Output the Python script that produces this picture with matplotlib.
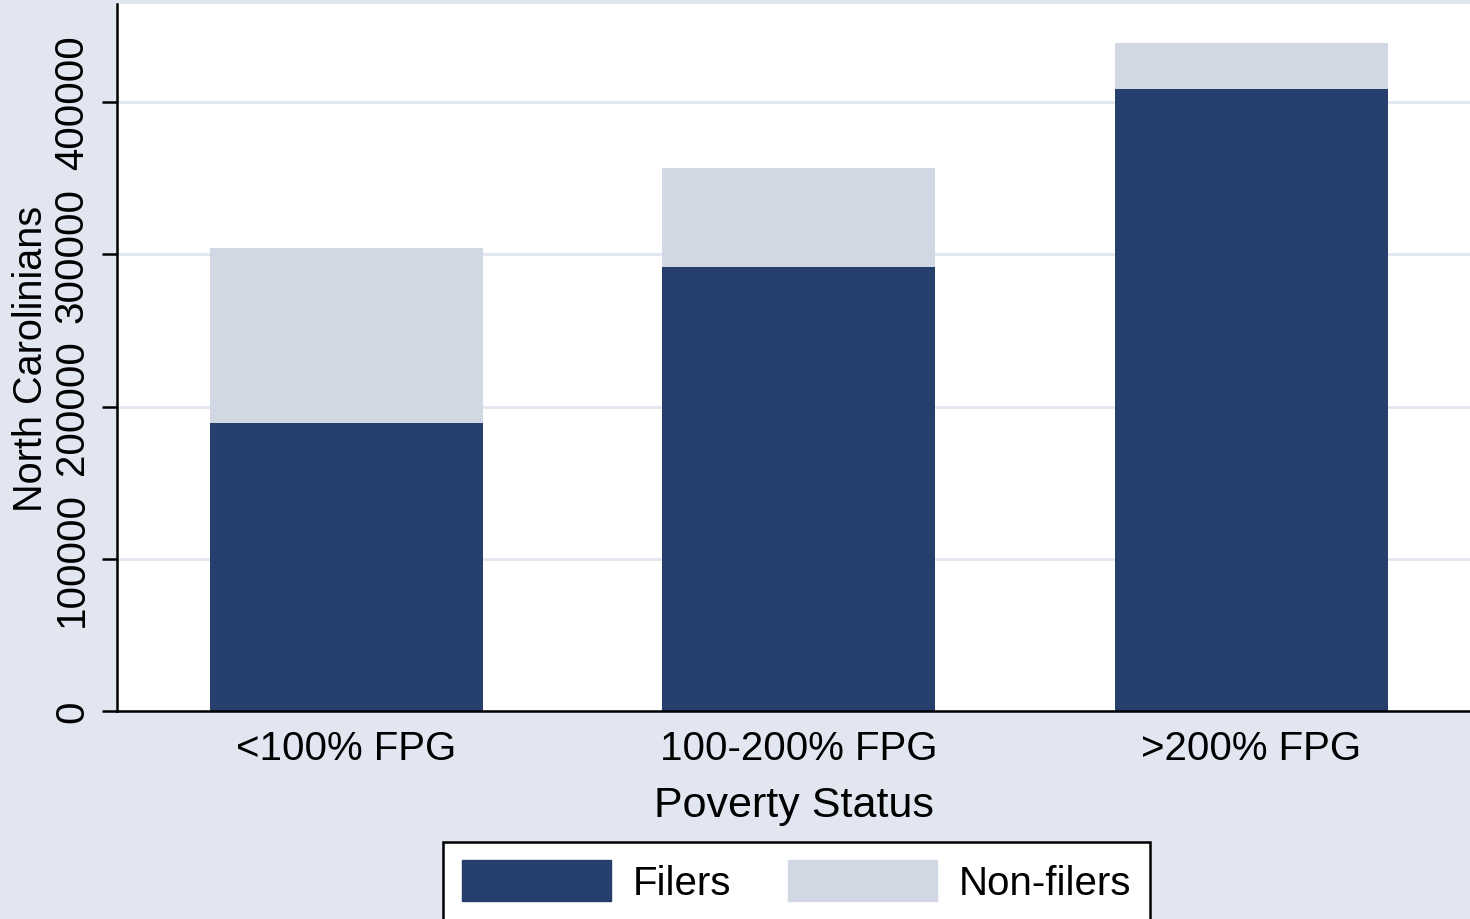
import matplotlib.pyplot as plt
import numpy as np
from matplotlib.patches import Patch

plt.rcParams['font.family'] = ['Liberation Sans', 'DejaVu Sans']

# values
categories = ['<100% FPG', '100-200% FPG', '>200% FPG']
filers = [189000, 291500, 408500]
non_filers = [115000, 65000, 30500]
yticks = [0, 100000, 200000, 300000, 400000]

bg = '#E1E6F0'
c_filers = '#273F6D'
c_non = '#D1D7E3'

fig = plt.figure(figsize=(14.7, 9.2), dpi=100, facecolor=bg)
ax = fig.add_axes([117 / 1470, 208 / 920, 1 - 117 / 1470, 707 / 920])
ax.set_facecolor('white')

x = np.arange(len(categories))
ax.bar(x, filers, width=0.604, color=c_filers, zorder=3)
ax.bar(x, non_filers, bottom=filers, width=0.604, color=c_non, zorder=3)

ax.set_xlim(-0.5075, 2.484)
ax.set_ylim(0, 464400)
ax.set_yticks(yticks)
ax.set_yticklabels([str(v) for v in yticks], rotation=90, va='center', fontsize=29)
ax.set_xticks(x)
ax.set_xticklabels(categories, fontsize=29)
ax.tick_params(axis='x', length=0, pad=13)
ax.tick_params(axis='y', length=10.8, width=1.8, pad=8)
ax.yaxis.grid(True, color=bg, linewidth=2, zorder=1)

for s in ['top', 'right']:
    ax.spines[s].set_visible(False)
for s in ['left', 'bottom']:
    ax.spines[s].set_linewidth(1.8)
    ax.spines[s].set_zorder(4)

ax.set_ylabel('North Carolinians', fontsize=28.5, labelpad=2)
ax.set_xlabel('Poverty Status', fontsize=31, labelpad=13)

handles = [Patch(color=c_filers, label='Filers'), Patch(color=c_non, label='Non-filers')]
leg = fig.legend(handles=handles, loc='upper center', bbox_to_anchor=(796.5 / 1470, 77 / 920),
                 ncol=2, fontsize=29, frameon=True, fancybox=False, edgecolor='black',
                 facecolor='white', framealpha=1, handlelength=3.7, handleheight=1.2,
                 handletextpad=0.55, columnspacing=1.4, borderpad=0.45, borderaxespad=0)
leg.get_frame().set_linewidth(1.8)

fig.savefig('out.png', dpi=100, facecolor=bg)
